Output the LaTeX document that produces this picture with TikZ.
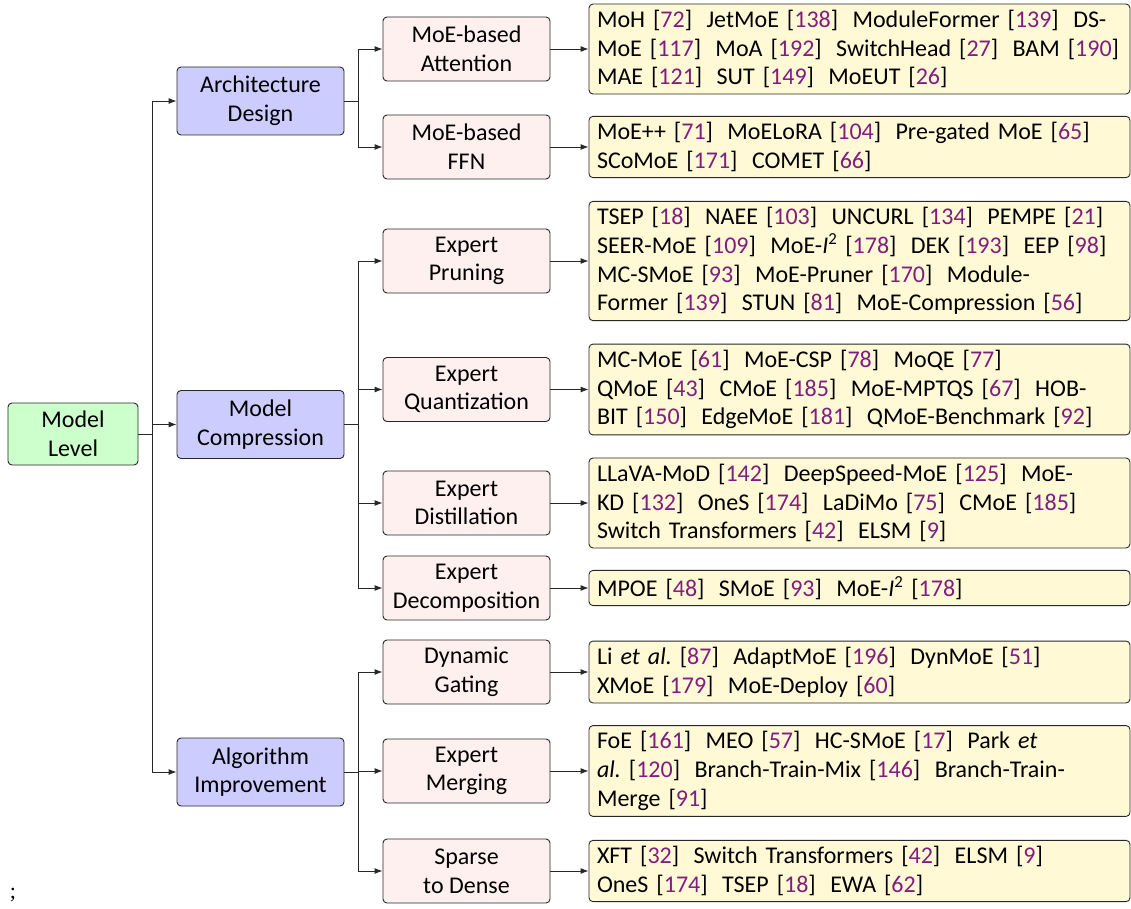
\documentclass[tikz,border=0pt]{standalone}
\usepackage{fontspec}
\setmainfont{Carlito}
\newfontfamily\semifont{Liberation Serif}
\usetikzlibrary{arrows.meta}
\definecolor{lvlone}{RGB}{204,255,204}
\definecolor{lvltwo}{RGB}{204,204,255}
\definecolor{lvlthree}{RGB}{255,240,240}
\definecolor{leafc}{RGB}{255,249,213}
\definecolor{citec}{RGB}{128,30,128}
\definecolor{edgec}{RGB}{40,40,40}
\newcommand{\cit}[1]{[\textcolor{citec}{#1}]}
\newcommand{\sep}{\hspace{0.6em}}
\newcommand{\leafline}[1]{\mbox{#1}\\}
\newcommand{\itwo}{\textit{I}\textsuperscript{2}}
\tikzset{
  base/.style={draw=edgec, line width=0.9pt, rounded corners=4pt, font=\fontsize{24}{28.7}\selectfont, align=center, inner sep=0pt},
  rootbox/.style={base, fill=lvlone, minimum width=130pt, minimum height=62pt},
  catbox/.style={base, fill=lvltwo, minimum width=167pt, minimum height=68pt},
  subbox/.style={base, fill=lvlthree, minimum width=167pt, minimum height=64pt},
  leafbox/.style={base, fill=leafc, text width=525pt, align=left, inner xsep=8pt, inner ysep=6pt, minimum width=541pt},
  arr/.style={draw=edgec, line width=0.9pt, -{Latex[length=8pt,width=6pt]}},
}
\begin{document}
\begin{tikzpicture}[x=1pt,y=-1pt]
\useasboundingbox (0,0) rectangle (1131,909);
% trunks
\coordinate (tA) at (152,0);
\coordinate (tB) at (358,0);
% root
\node[rootbox] (ml) at (73,434) {Model\\Level};
% level two
\node[catbox] (ad) at (260.5,101) {Architecture\\Design};
\node[catbox] (mc) at (260.5,424.5) {Model\\Compression};
\node[catbox] (ai) at (260.5,772) {Algorithm\\Improvement};
% level three
\node[subbox] (att) at (466.5,49) {MoE-based\\Attention};
\node[subbox] (ffn) at (466.5,147) {MoE-based\\FFN};
\node[subbox] (pru) at (466.5,261) {Expert\\Pruning};
\node[subbox] (qua) at (466.5,389.5) {Expert\\Quantization};
\node[subbox] (dis) at (466.5,503) {Expert\\Distillation};
\node[subbox] (dec) at (466.5,588) {Expert\\Decomposition};
\node[subbox] (dyn) at (466.5,672) {Dynamic\\Gating};
\node[subbox] (mer) at (466.5,771) {Expert\\Merging};
\node[subbox] (spa) at (466.5,871) {Sparse\\to Dense};
% leaves
\node[leafbox] (l1) at (859.5,49) {\leafline{MoH \cit{72}\sep JetMoE \cit{138}\sep ModuleFormer \cit{139}\sep DS-}\leafline{MoE \cit{117}\sep MoA \cit{192}\sep SwitchHead \cit{27}\sep BAM \cit{190}}\mbox{MAE \cit{121}\sep SUT \cit{149}\sep MoEUT \cit{26}}};
\node[leafbox] (l2) at (859.5,147) {\leafline{MoE++ \cit{71}\sep MoELoRA \cit{104}\sep Pre-gated MoE \cit{65}}\mbox{SCoMoE \cit{171}\sep COMET \cit{66}}};
\node[leafbox] (l3) at (859.5,261) {\leafline{TSEP \cit{18}\sep NAEE \cit{103}\sep UNCURL \cit{134}\sep PEMPE \cit{21}}\leafline{SEER-MoE \cit{109}\sep MoE-\itwo{} \cit{178}\sep DEK \cit{193}\sep EEP \cit{98}}\leafline{MC-SMoE \cit{93}\sep MoE-Pruner \cit{170}\sep Module-}\mbox{Former \cit{139}\sep STUN \cit{81}\sep MoE-Compression \cit{56}}};
\node[leafbox] (l4) at (859.5,389.5) {\leafline{MC-MoE \cit{61}\sep MoE-CSP \cit{78}\sep MoQE \cit{77}}\leafline{QMoE \cit{43}\sep CMoE \cit{185}\sep MoE-MPTQS \cit{67}\sep HOB-}\mbox{BIT \cit{150}\sep EdgeMoE \cit{181}\sep QMoE-Benchmark \cit{92}}};
\node[leafbox] (l5) at (859.5,503) {\leafline{LLaVA-MoD \cit{142}\sep DeepSpeed-MoE \cit{125}\sep MoE-}\leafline{KD \cit{132}\sep OneS \cit{174}\sep LaDiMo \cit{75}\sep CMoE \cit{185}}\mbox{Switch Transformers \cit{42}\sep ELSM \cit{9}}};
\node[leafbox] (l6) at (859.5,588) {\mbox{MPOE \cit{48}\sep SMoE \cit{93}\sep MoE-\itwo{} \cit{178}}};
\node[leafbox] (l7) at (859.5,672) {\leafline{Li \textit{et al.}\ \cit{87}\sep AdaptMoE \cit{196}\sep DynMoE \cit{51}}\mbox{XMoE \cit{179}\sep MoE-Deploy \cit{60}}};
\node[leafbox] (l8) at (859.5,771) {\leafline{FoE \cit{161}\sep MEO \cit{57}\sep HC-SMoE \cit{17}\sep Park \textit{et}}\leafline{\textit{al.}\ \cit{120}\sep Branch-Train-Mix \cit{146}\sep Branch-Train-}\mbox{Merge \cit{91}}};
\node[leafbox] (l9) at (859.5,871) {\leafline{XFT \cit{32}\sep Switch Transformers \cit{42}\sep ELSM \cit{9}}\mbox{OneS \cit{174}\sep TSEP \cit{18}\sep EWA \cit{62}}};
% stray semicolon
\node[font=\semifont\fontsize{22}{24}\selectfont, inner sep=0pt] (semi) at (13,895) {;};
% connectors root -> level two
\draw[arr] (ml.east) -- (tA |- ml.east) |- (ad.west);
\draw[arr] (ml.east) -- (tA |- ml.east) |- (mc.west);
\draw[arr] (ml.east) -- (tA |- ml.east) |- (ai.west);
% level two -> level three
\draw[arr] (ad.east) -- (tB |- ad.east) |- (att.west);
\draw[arr] (ad.east) -- (tB |- ad.east) |- (ffn.west);
\draw[arr] (mc.east) -- (tB |- mc.east) |- (pru.west);
\draw[arr] (mc.east) -- (tB |- mc.east) |- (qua.west);
\draw[arr] (mc.east) -- (tB |- mc.east) |- (dis.west);
\draw[arr] (mc.east) -- (tB |- mc.east) |- (dec.west);
\draw[arr] (ai.east) -- (tB |- ai.east) |- (dyn.west);
\draw[arr] (ai.east) -- (tB |- ai.east) |- (mer.west);
\draw[arr] (ai.east) -- (tB |- ai.east) |- (spa.west);
% level three -> leaves
\draw[arr] (att.east) -- (l1.west);
\draw[arr] (ffn.east) -- (l2.west);
\draw[arr] (pru.east) -- (l3.west);
\draw[arr] (qua.east) -- (l4.west);
\draw[arr] (dis.east) -- (l5.west);
\draw[arr] (dec.east) -- (l6.west);
\draw[arr] (dyn.east) -- (l7.west);
\draw[arr] (mer.east) -- (l8.west);
\draw[arr] (spa.east) -- (l9.west);
\end{tikzpicture}
\end{document}
